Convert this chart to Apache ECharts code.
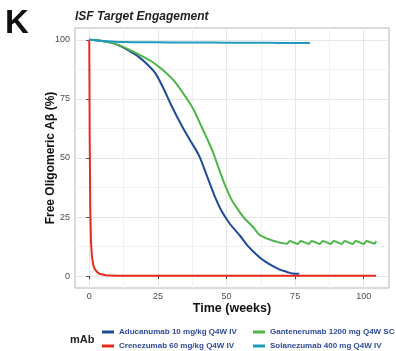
<!DOCTYPE html>
<html>
<head>
<meta charset="utf-8">
<script src="https://cdn.jsdelivr.net/npm/echarts@6/dist/echarts.min.js"></script>
<style>html,body{margin:0;padding:0;background:#fff}#c{width:396px;height:351px}</style>
</head>
<body>
<div id="c"></div>
<script>
var xTicks = [0, 25, 50, 75, 100];
var xMinor = [12.5, 37.5, 62.5, 87.5];
var yTicks = [0, 25, 50, 75, 100];
var yMinor = [12.5, 37.5, 62.5, 87.5];

var seriesNames = [
  'Aducanumab 10 mg/kg Q4W IV',
  'Crenezumab 60 mg/kg Q4W IV',
  'Gantenerumab 1200 mg Q4W SC',
  'Solanezumab 400 mg Q4W IV'
];

var aduWeeks = [0, 4, 8, 12, 15, 18, 21, 24, 27, 30, 34, 37, 40, 43, 46, 48, 51, 55, 58, 62, 65, 69, 72, 74, 76.5];
var aduVals  = [100, 99.6, 98.8, 97, 95, 92.8, 89.8, 86, 79.5, 72, 63, 57, 51, 42, 33, 28, 22.5, 17, 12.5, 8, 5.5, 3, 1.8, 1.1, 1];

var creWeeks = [0, 0.15, 0.35, 0.6, 1, 1.5, 2, 3, 4, 6, 10, 104.5];
var creVals  = [100, 60, 30, 15, 8, 4.5, 3, 1.6, 0.9, 0.4, 0.2, 0.2];

var ganWeeks = [0, 4, 9, 14, 18.5, 23, 27, 31, 35, 38, 41, 43, 45, 48, 50, 52, 54, 56.5, 59.5, 62, 64.5, 67, 69,
  72, 73, 74.5, 76, 77, 78.5, 80, 81, 82.5, 84, 85, 86.5, 88, 89, 90.5, 92, 93, 94.5, 96, 97, 98.5, 100, 101, 102.5, 104, 104.5];
var ganVals  = [100, 99.6, 98.5, 96.2, 93.5, 90.6, 87, 82.5, 76, 70.5, 63, 58, 52.7, 43, 37, 32, 28.5, 24.5, 21, 17.5, 16, 15, 14.3,
  13.7, 14.9, 14.3, 13.6, 14.9, 14.3, 13.6, 14.9, 14.3, 13.6, 14.9, 14.3, 13.6, 14.9, 14.3, 13.6, 14.9, 14.3, 13.6, 14.9, 14.3, 13.6, 14.9, 14.3, 13.7, 14.9];

var solWeeks = [0, 4, 8, 12, 20, 30, 40, 50, 60, 70, 80.4];
var solVals  = [100, 99.6, 99.3, 99.1, 99, 98.9, 98.9, 98.8, 98.8, 98.7, 98.7];

var colors = ['#1f4b98', '#e8291c', '#4cb648', '#1f9cbf'];
var smoothing = [0.3, 0, 0.2, 0.3];

function pairs(xs, ys) { return xs.map(function (x, i) { return [x, ys[i]]; }); }
var allData = [pairs(aduWeeks, aduVals), pairs(creWeeks, creVals), pairs(ganWeeks, ganVals), pairs(solWeeks, solVals)];

var FONT = 'Liberation Sans, Arial, sans-serif';
var chart = echarts.init(document.getElementById('c'), null, {renderer: 'canvas'});

var legendText = {color: '#2f4a9b', fontWeight: 'bold', fontSize: 8, fontFamily: FONT, lineHeight: 10};

chart.setOption({
  animation: false,
  backgroundColor: '#ffffff',
  title: [
    {text: 'K', left: 0, top: 2, textStyle: {fontSize: 33, fontWeight: 'bold', color: '#111', fontFamily: FONT}},
    {text: 'ISF Target Engagement', left: 70, top: 6, textStyle: {fontSize: 12, fontWeight: 'bold', fontStyle: 'italic', color: '#222', fontFamily: FONT}}
  ],
  graphic: [
    {type: 'text', left: 70, top: 334, style: {text: 'mAb', fontSize: 11, fontWeight: 'bold', fill: '#222', fontFamily: FONT}}
  ],
  legend: [
    {data: [seriesNames[0], seriesNames[1]], orient: 'vertical', left: 102, top: 327, padding: 0,
     icon: 'rect', itemWidth: 12, itemHeight: 3, itemGap: 4, textStyle: legendText},
    {data: [seriesNames[2], seriesNames[3]], orient: 'vertical', left: 253, top: 327, padding: 0,
     icon: 'rect', itemWidth: 12, itemHeight: 3, itemGap: 4, textStyle: legendText}
  ],
  grid: {left: 75, top: 28, right: 7, bottom: 63, show: true, borderColor: '#b5b5b5', borderWidth: 1, containLabel: false},
  xAxis: [
    {type: 'value', min: -5.2, max: 109.2, position: 'bottom',
     name: 'Time (weeks)', nameLocation: 'middle', nameGap: 14, nameMoveOverlap: false,
     nameTextStyle: {fontSize: 12.5, fontWeight: 'bold', color: '#111', fontFamily: FONT},
     axisLine: {show: false},
     axisTick: {show: true, length: 3, lineStyle: {color: '#444'}, customValues: xTicks},
     axisLabel: {customValues: xTicks, fontSize: 9, color: '#4d4d4d', margin: 4, fontFamily: FONT},
     splitLine: {show: true, lineStyle: {color: '#e6e6e6', width: 1}}},
    {type: 'value', min: -5.2, max: 109.2, position: 'bottom',
     axisLine: {show: false},
     axisTick: {show: false, customValues: xMinor},
     axisLabel: {show: false, customValues: xMinor},
     splitLine: {show: true, lineStyle: {color: '#f1f1f1', width: 1}}}
  ],
  yAxis: [
    {type: 'value', min: -5, max: 105,
     name: 'Free Oligomeric A\u03b2 (%)', nameLocation: 'middle', nameGap: 18, nameRotate: 90, nameMoveOverlap: false,
     nameTextStyle: {fontSize: 12, fontWeight: 'bold', color: '#111', fontFamily: FONT},
     axisLine: {show: false},
     axisTick: {show: true, length: 3, lineStyle: {color: '#444'}, customValues: yTicks},
     axisLabel: {customValues: yTicks, fontSize: 9, color: '#4d4d4d', margin: 5, fontFamily: FONT},
     splitLine: {show: true, lineStyle: {color: '#e6e6e6', width: 1}}},
    {type: 'value', min: -5, max: 105,
     axisLine: {show: false},
     axisTick: {show: false, customValues: yMinor},
     axisLabel: {show: false, customValues: yMinor},
     splitLine: {show: true, lineStyle: {color: '#f1f1f1', width: 1}}}
  ],
  series: seriesNames.map(function (n, i) {
    return {name: n, type: 'line', data: allData[i], xAxisIndex: 0, yAxisIndex: 0,
      showSymbol: false, symbol: 'none', smooth: smoothing[i] || false, color: colors[i],
      lineStyle: {width: 2, color: colors[i]}, z: 3 + i};
  })
});
</script>
</body>
</html>
